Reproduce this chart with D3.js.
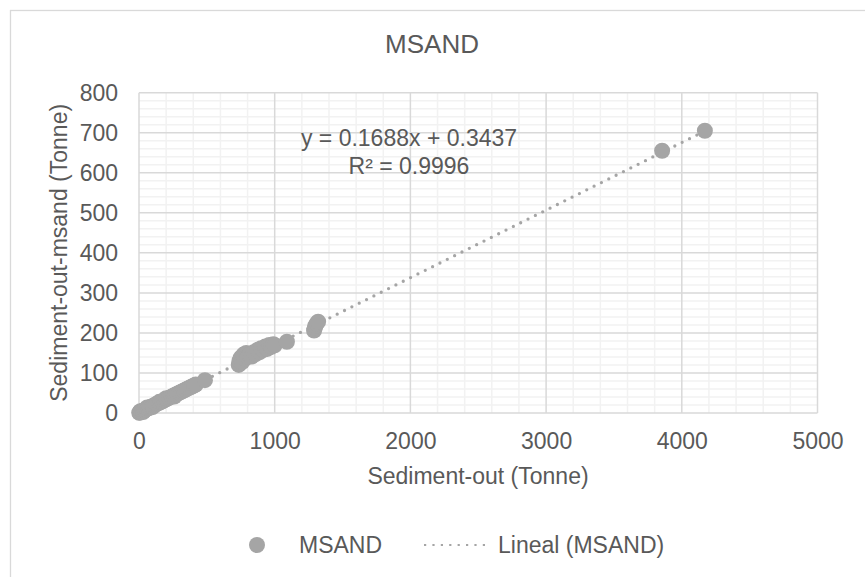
<!DOCTYPE html>
<html><head><meta charset="utf-8">
<script src="https://cdn.jsdelivr.net/npm/d3@7"></script>
<style>body{margin:0;background:#fff}svg{display:block}text{font-family:"Liberation Sans",Arial,sans-serif;fill:#595959}</style>
</head><body><svg id="c" width="865" height="577"></svg>
<script>
const chartTitle = "MSAND";
const xTitle = "Sediment-out (Tonne)";
const yTitle = "Sediment-out-msand (Tonne)";
const xTicks = [0, 1000, 2000, 3000, 4000, 5000];
const yTicks = [0, 100, 200, 300, 400, 500, 600, 700, 800];
const sedimentOut = [2,5,8,10,12,15,20,25,30,30,35,40,48,55,60,62,70,78,85,95,100,105,115,125,135,148,150,160,172,185,198,200,210,225,240,255,260,270,285,300,315,330,345,360,375,390,405,418,
  486,
  735,740,750,760,770,780,790,800,815,830,845,860,875,890,900,915,930,945,960,975,990,1000,
  1090,
  1290,1295,1300,1310,1320,
  3855,4170];
const sedimentOutMsand = [0.7,1.2,1.7,4.5,2.4,3.0,3.7,4.6,5.5,2.5,6.3,7.2,8.4,9.8,14.0,10.9,12.3,13.6,14.9,16.5,14.5,18.3,19.9,21.6,23.3,25.4,28.0,27.5,29.4,31.7,33.8,37.0,35.9,38.4,40.9,43.5,41.0,46.0,48.4,51.1,53.6,56.1,58.6,61.3,63.6,66.2,68.7,71.0,
  82,
  120,130,138,127,146,136,150,140,145,141,152,147,158,152,162,158,166,160,170,165,172,169,
  178,
  206,212,218,224,228,
  655,705];
const trendSlope = 0.1688, trendIntercept = 0.3437;
const equationLines = ["y = 0.1688x + 0.3437", "R\u00b2 = 0.9996"];
const legendLabels = ["MSAND", "Lineal (MSAND)"];

const svg = d3.select("#c");
const gray = "#a5a5a5";
svg.append("rect").attr("x",10.5).attr("y",10.5).attr("width",900).attr("height",600)
  .attr("fill","#fff").attr("stroke","#d9d9d9").attr("stroke-width",1.3);

const x = d3.scaleLinear().domain([0,5000]).range([139,817.5]);
const y = d3.scaleLinear().domain([0,800]).range([413,92.7]);

const g = svg.append("g");
const xMinor = d3.range(0,5001,200).filter(v=>v%1000!==0);
const yMinor = d3.range(0,801,20).filter(v=>v%100!==0);
g.selectAll(".xm").data(xMinor).join("line").attr("x1",d=>x(d)).attr("x2",d=>x(d)).attr("y1",y(0)).attr("y2",y(800)).attr("stroke","#f2f2f2").attr("stroke-width",1.5);
g.selectAll(".ym").data(yMinor).join("line").attr("class","ym").attr("x1",x(0)).attr("x2",x(5000)).attr("y1",d=>y(d)).attr("y2",d=>y(d)).attr("stroke","#f2f2f2").attr("stroke-width",1.5);
g.selectAll(".xM").data(xTicks).join("line").attr("class","xM").attr("x1",d=>x(d)).attr("x2",d=>x(d)).attr("y1",y(0)).attr("y2",y(800)).attr("stroke","#d9d9d9").attr("stroke-width",1.5);
g.selectAll(".yM").data(yTicks).join("line").attr("class","yM").attr("x1",x(0)).attr("x2",x(5000)).attr("y1",d=>y(d)).attr("y2",d=>y(d)).attr("stroke","#d9d9d9").attr("stroke-width",1.5);

const xAxis = svg.append("g").attr("transform",`translate(0,${y(0)})`)
  .call(d3.axisBottom(x).tickValues(xTicks).tickSize(0).tickPadding(20).tickFormat(d3.format("d")));
const yAxis = svg.append("g").attr("transform",`translate(${x(0)},0)`)
  .call(d3.axisLeft(y).tickValues(yTicks).tickSize(0).tickPadding(21).tickFormat(d3.format("d")));
[xAxis,yAxis].forEach(a=>{a.select(".domain").remove();a.selectAll("text").style("font-size","23px").attr("fill","#595959").style("font-family",'"Liberation Sans",Arial,sans-serif');});

const xmax = d3.max(sedimentOut);
svg.append("line").attr("x1",x(0)).attr("y1",y(trendIntercept)).attr("x2",x(xmax)).attr("y2",y(trendSlope*xmax+trendIntercept))
  .attr("stroke",gray).attr("stroke-width",3.3).attr("stroke-linecap","round").attr("stroke-dasharray","0 8.2");

svg.selectAll(".pt").data(sedimentOut.map((v,i)=>[v,sedimentOutMsand[i]])).join("circle")
  .attr("cx",d=>x(d[0])).attr("cy",d=>y(d[1])).attr("r",8).attr("fill",gray);

svg.selectAll(".eq").data(equationLines).join("text").attr("x",409).attr("y",(d,i)=>146+i*28)
  .attr("text-anchor","middle").style("font-size","23px").text(d=>d);

svg.append("text").attr("x",432).attr("y",53).attr("text-anchor","middle").style("font-size","26px").text(chartTitle);
svg.append("text").attr("x",478).attr("y",484).attr("text-anchor","middle").style("font-size","23px").text(xTitle);
svg.append("text").attr("transform",`translate(67,${(y(0)+y(800))/2}) rotate(-90)`).attr("text-anchor","middle").style("font-size","23px").text(yTitle);

const lg = svg.append("g");
lg.append("circle").attr("cx",257).attr("cy",545).attr("r",8).attr("fill",gray);
lg.append("text").attr("x",299).attr("y",553).style("font-size","23px").text(legendLabels[0]);
lg.append("line").attr("x1",424).attr("x2",490).attr("y1",545).attr("y2",545).attr("stroke",gray).attr("stroke-width",2.2).attr("stroke-dasharray","2.2 6.2");
lg.append("text").attr("x",498).attr("y",553).style("font-size","23px").text(legendLabels[1]);
</script></body></html>
